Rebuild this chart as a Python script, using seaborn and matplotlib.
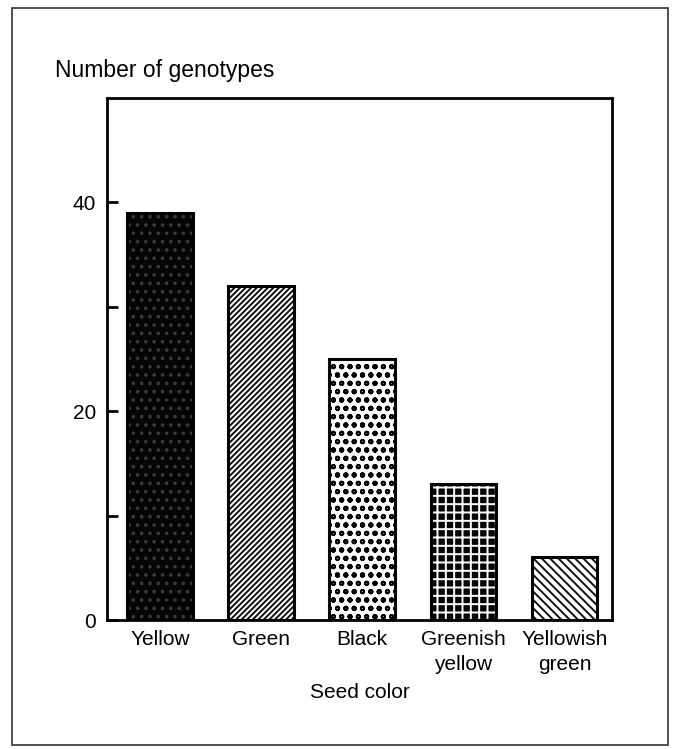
import numpy as np
import pandas as pd
import matplotlib
matplotlib.use("Agg")
import matplotlib.pyplot as plt
import seaborn as sns
from matplotlib.patches import Rectangle

# values
seed_colors = ["Yellow", "Green", "Black", "Greenish\nyellow", "Yellowish\ngreen"]
n_genotypes = [39, 32, 25, 13, 6]
y_ticks = [0, 10, 20, 30, 40]
y_tick_labels = ["0", "", "20", "", "40"]

df = pd.DataFrame({"seed_color": seed_colors, "count": n_genotypes})

sns.set_style("white")
plt.rcParams["font.family"] = ["Liberation Sans", "DejaVu Sans"]
plt.rcParams["hatch.linewidth"] = 1.4
plt.rcParams["text.color"] = "black"
plt.rcParams["xtick.color"] = "black"
plt.rcParams["ytick.color"] = "black"
plt.rcParams["axes.labelcolor"] = "black"

fig = plt.figure(figsize=(6.76, 7.49), dpi=100)
ax = fig.add_axes([0.1583, 0.1722, 0.747, 0.697])

sns.barplot(data=df, x="seed_color", y="count", width=0.65, ax=ax,
            color="white", saturation=1)

# (facecolor, hatch colour, hatch) per bar, mimicking the printed textures
styles = [
    ("#050505", "#3a3a3a", ".."),
    ("white", "#111111", "//////"),
    ("white", "#000000", "oo"),
    ("#050505", "white", "++"),
    ("white", "#111111", "\\\\\\\\"),
]
for patch, (fc, hc, h) in zip(ax.patches, styles):
    patch.set_facecolor(fc)
    patch.set_edgecolor(hc)
    patch.set_hatch(h)
    patch.set_linewidth(0)
    ax.add_patch(Rectangle(patch.get_xy(), patch.get_width(), patch.get_height(),
                           fill=False, edgecolor="black", linewidth=2.2, zorder=3))

ax.set_xlim(-0.525, 4.47)
ax.set_ylim(0, 50)
ax.set_yticks(y_ticks)
ax.set_yticklabels(y_tick_labels, fontsize=15)
ax.tick_params(axis="y", direction="in", length=8, width=2, pad=8, left=True)
ax.tick_params(axis="x", length=0, labelsize=15, pad=7)
for lbl in ax.get_xticklabels():
    lbl.set_linespacing(1.45)
for s in ax.spines.values():
    s.set_visible(True)
    s.set_linewidth(2)
    s.set_color("black")

ax.set_xlabel("Seed color", fontsize=15, labelpad=6)
ax.set_ylabel("")
fig.text(55 / 676, 1 - 70 / 749, "Number of genotypes", fontsize=16.5,
         ha="left", va="center")

# page frame of the scanned figure
fig.add_artist(Rectangle((12 / 676, 1 - 745 / 749), 656 / 676, 737 / 749,
                         transform=fig.transFigure, fill=False,
                         edgecolor="#333333", linewidth=1.2))

plt.savefig("out.png", dpi=100)
